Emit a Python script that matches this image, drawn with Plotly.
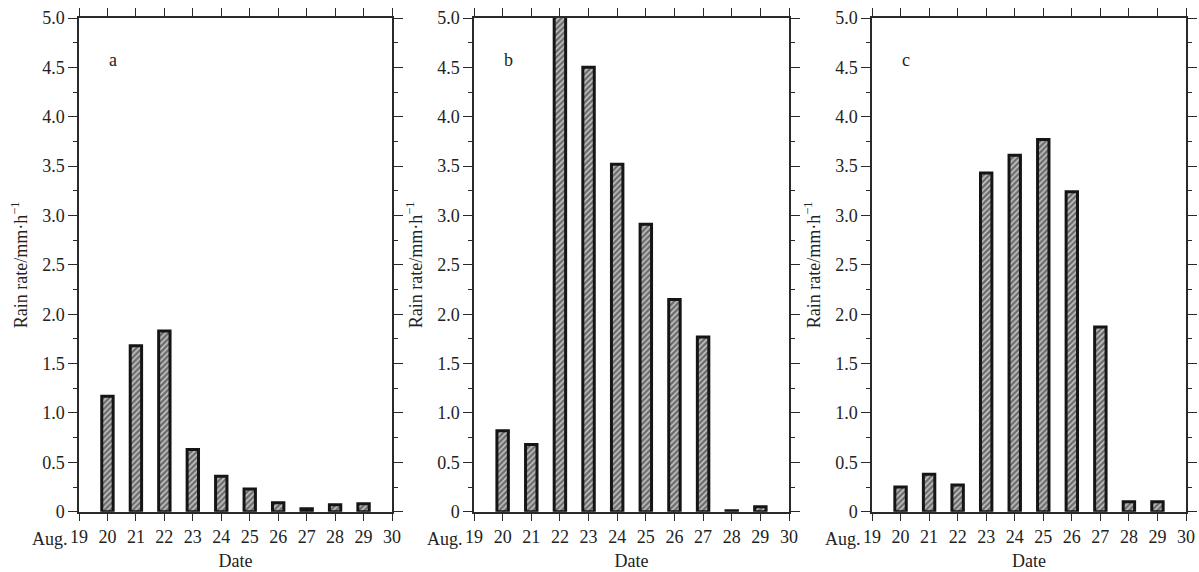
import plotly.graph_objects as go

days = [20, 21, 22, 23, 24, 25, 26, 27, 28, 29]
rain_a = [1.17, 1.68, 1.83, 0.63, 0.36, 0.23, 0.09, 0.03, 0.07, 0.08]
rain_b = [0.82, 0.68, 5.02, 4.50, 3.52, 2.91, 2.15, 1.77, 0.01, 0.05]
rain_c = [0.25, 0.38, 0.27, 3.43, 3.61, 3.77, 3.24, 1.87, 0.10, 0.10]
tick_vals = list(range(19, 31))
tick_text = [str(d) for d in range(19, 31)]
month_label = "Aug."
panel_labels = ["a", "b", "c"]
y_ticks = [0, 0.5, 1.0, 1.5, 2.0, 2.5, 3.0, 3.5, 4.0, 4.5, 5.0]
y_text = ["0"] + [f"{v:.1f}" for v in y_ticks[1:]]

FONT = "Liberation Serif"
AX = "#2a2a2a"
TXT = "#222"
FS = 18

x_domains = [[79/1199, 392/1199], [474/1199, 789/1199], [872/1199, 1186/1199]]
y_domain = [1 - 511.7/572, 1 - 18/572]

fig = go.Figure()
series = [rain_a, rain_b, rain_c]
for i, vals in enumerate(series):
    sfx = "" if i == 0 else str(i + 1)
    fig.add_trace(go.Bar(
        x=days, y=vals, width=0.4,
        xaxis="x" + sfx, yaxis="y" + sfx,
        marker=dict(
            color="#8a8a8a",
            line=dict(color="#151515", width=3),
            pattern=dict(shape="/", fgcolor="#d0d0d0", bgcolor="#6e6e6e",
                         size=4, solidity=0.35, fillmode="replace"),
        ),
        cliponaxis=False,
        showlegend=False,
    ))
    common_x = dict(
        domain=x_domains[i], range=[19, 30], tickmode="array",
        tickvals=tick_vals, ticktext=tick_text, ticks="outside", ticklen=8,
        tickwidth=1.3, tickcolor=AX, showline=True, linecolor=AX, linewidth=1.5,
        mirror="ticks", showgrid=False, zeroline=False, tickangle=0,
        automargin=False,
        tickfont=dict(family=FONT, size=FS, color=TXT),
        title=dict(text="Date", font=dict(family=FONT, size=FS, color=TXT), standoff=8),
        anchor="y" + sfx,
    )
    common_y = dict(
        domain=y_domain, range=[0, 5.0], tickmode="array",
        tickvals=y_ticks, ticktext=y_text, ticks="outside", ticklen=9,
        tickwidth=1.3, tickcolor=AX, showline=True, linecolor=AX, linewidth=1.5,
        mirror="ticks", showgrid=False, zeroline=False, automargin=False,
        minor=dict(dtick=0.25, tick0=0, ticks="outside", ticklen=4, tickcolor=AX, tickwidth=1.2),
        tickfont=dict(family=FONT, size=FS, color=TXT),
        title=dict(text="Rain rate/mm·h<sup>−1</sup>", font=dict(family=FONT, size=FS, color=TXT), standoff=10),
        anchor="x" + sfx,
    )
    fig.update_layout(**{"xaxis" + sfx: common_x, "yaxis" + sfx: common_y})
    fig.add_annotation(x=20.2, y=4.57, xref="x" + sfx, yref="y" + sfx,
                       text=panel_labels[i], showarrow=False,
                       font=dict(family=FONT, size=FS, color=TXT))
    fig.add_annotation(x=19, y=0, xref="x" + sfx, yref="y" + sfx,
                       text=month_label, showarrow=False, xanchor="right",
                       yanchor="middle", xshift=-9, yshift=-27,
                       font=dict(family=FONT, size=FS, color=TXT))

fig.update_layout(
    width=1199, height=572,
    margin=dict(l=0, r=0, t=0, b=0),
    plot_bgcolor="white", paper_bgcolor="white",
    bargap=0.6,
)
fig.write_html("out.html")
